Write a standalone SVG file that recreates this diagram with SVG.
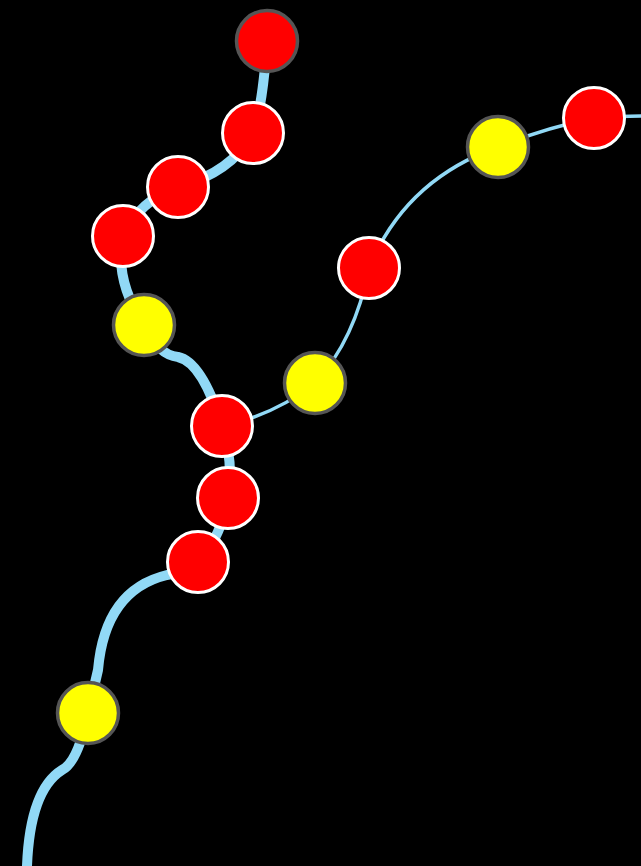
<svg xmlns="http://www.w3.org/2000/svg" width="641" height="866" viewBox="0 0 641 866">
<style>
.edge{fill:none;stroke:#91d9f6;stroke-linecap:round;stroke-linejoin:round}
.thick{stroke-width:10}
.thin{stroke-width:3.5}
.red{fill:#ff0000;stroke:#ffffff;stroke-width:3}
.redg{fill:#ff0000;stroke:#555555;stroke-width:3.5}
.yel{fill:#ffff00;stroke:#555555;stroke-width:3.5}
</style>
<rect x="0" y="0" width="641" height="866" fill="#000000"/>
<g id="connectors">
<path class="edge thick" d="M267,41 Q263,105 253,133 Q232,172 178,187 Q140,200 123,236 Q114,280 144,325 Q158,355 178,357 Q202,362 222,426 Q234,462 228,498 Q220,540 198,562 Q185,573 167,575 Q105,590 98,670 L88,713 Q78,762 62,770 Q30,790 27,866"/>
<path class="edge thin" d="M222,426 Q275,415 315,383 Q355,340 369,268 Q405,180 498,147 Q545,128 594,118 Q620,116 641,116"/>
</g>
<g id="n1"><circle class="redg" cx="267" cy="41" r="30.5"/></g>
<g id="n2"><circle class="red" cx="253" cy="133" r="30.5"/></g>
<g id="n3"><circle class="red" cx="178" cy="187" r="30.5"/></g>
<g id="n4"><circle class="red" cx="123" cy="236" r="30.5"/></g>
<g id="y1"><circle class="yel" cx="144" cy="325" r="30.5"/></g>
<g id="n5"><circle class="red" cx="222" cy="426" r="30.5"/></g>
<g id="n6"><circle class="red" cx="228" cy="498" r="30.5"/></g>
<g id="n7"><circle class="red" cx="198" cy="562" r="30.5"/></g>
<g id="y2"><circle class="yel" cx="88" cy="713" r="30.5"/></g>
<g id="y3"><circle class="yel" cx="315" cy="383" r="30.5"/></g>
<g id="n8"><circle class="red" cx="369" cy="268" r="30.5"/></g>
<g id="y4"><circle class="yel" cx="498" cy="147" r="30.5"/></g>
<g id="n9"><circle class="red" cx="594" cy="118" r="30.5"/></g>
</svg>
